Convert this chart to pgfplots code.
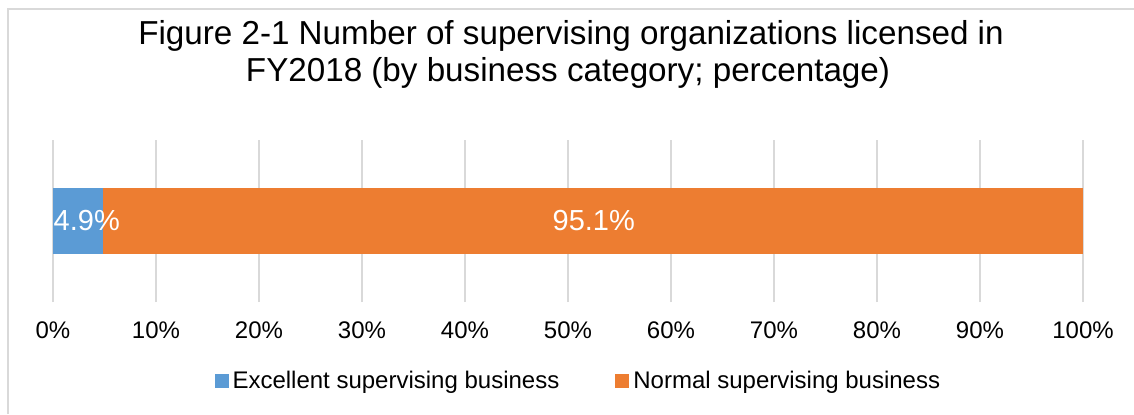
\documentclass[border=0pt]{standalone}
\usepackage{pgfplots}
\pgfplotsset{compat=1.18}
\usepackage{fontspec}
\setmainfont{Liberation Sans}
\definecolor{cblue}{HTML}{5B9BD5}
\definecolor{corange}{HTML}{ED7D31}
\definecolor{gridgray}{HTML}{D9D9D9}
\definecolor{txt}{HTML}{000000}
\begin{document}
\begin{tikzpicture}
\useasboundingbox (0,0) rectangle (567pt,-207pt);
\draw[gridgray, line width=1pt] (4pt,-207pt) -- (4pt,-4.25pt) -- (567pt,-4.25pt);
\node[anchor=base, font=\fontsize{16.6}{19}\selectfont, text=txt, inner sep=0pt] at (285.5pt,-22pt) {Figure 2-1 Number of supervising organizations licensed in};
\node[anchor=base, font=\fontsize{16.6}{19}\selectfont, text=txt, inner sep=0pt] at (284pt,-40.5pt) {FY2018 (by business category; percentage)};
\begin{axis}[
  at={(26.5pt,-151pt)}, anchor=south west,
  width=515pt, height=81pt, scale only axis,
  xbar stacked, bar width=33pt,
  xmin=0, xmax=100, ymin=-1, ymax=1,
  ytick=\empty,
  xtick={0,10,...,100},
  xticklabels={0\%,10\%,20\%,30\%,40\%,50\%,60\%,70\%,80\%,90\%,100\%},
  xticklabel style={anchor=base, yshift=-18pt, font=\fontsize{12}{14}\selectfont, text=txt},
  major tick length=0pt,
  axis line style={draw=none},
  xmajorgrids, grid style={gridgray, line width=1pt},
  legend columns=2,
  legend style={at={(0.511,-0.488)}, anchor=center, draw=none, fill=none,
    font=\fontsize{12}{14}\selectfont, text=txt,
    /tikz/every even column/.append style={column sep=26pt}},
  legend image code/.code={\fill[#1] (0pt,-3.4pt) rectangle (7pt,3.4pt);},
]
\addplot[fill=cblue, draw=none] coordinates {(4.9,0)};
\addlegendentry{Excellent supervising business}
\addplot[fill=corange, draw=none] coordinates {(95.1,0)};
\addlegendentry{Normal supervising business}
\end{axis}
\begin{axis}[
  at={(26.5pt,-151pt)}, anchor=south west,
  width=515pt, height=81pt, scale only axis,
  xmin=0, xmax=100, ymin=-1, ymax=1,
  hide axis, clip=false,
]
\addplot[only marks, mark=none,
  nodes near coords, point meta=explicit symbolic,
  nodes near coords style={anchor=center, text=white, font=\fontsize{14.5}{16}\selectfont, inner sep=0pt}]
  coordinates {(3.28,0) [4.9\%] (52.5,0) [95.1\%]};
\end{axis}
\end{tikzpicture}
\end{document}
